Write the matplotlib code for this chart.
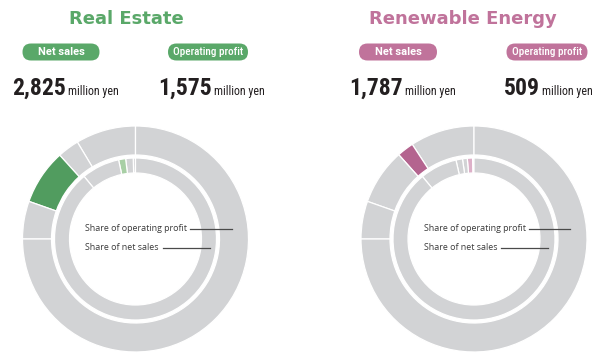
import matplotlib

matplotlib.use("Agg")
import matplotlib.pyplot as plt
from matplotlib.patches import FancyBboxPatch

# segment shares (%), counter-clockwise from 12 o'clock; outer = operating profit, inner = net sales
re_op_share = [8.6, 3.1, 7.9, 5.4, 75.0]
re_sales_share = [0.45, 1.5, 1.4, 7.6, 89.05]
ren_op_share = [9.2, 2.4, 8.0, 5.4, 75.0]
ren_sales_share = [0.28, 1.05, 0.95, 1.3, 7.4, 89.02]
re_op_hi, re_sales_hi = 2, 2
ren_op_hi, ren_sales_hi = 1, 1

titles = ["Real Estate", "Renewable Energy"]
net_sales = ["2,825", "1,787"]
op_profit = ["1,575", "509"]

GRAY = "#d2d3d5"
GREEN, GREEN_L, GREEN_T = "#519c5f", "#a8cfa5", "#5aa869"
PINK, PINK_L, PINK_T = "#b4648f", "#ddb0c8", "#c0739b"
INK = "#231f20"
NARROW = ["Liberation Sans Narrow", "Roboto Condensed", "DejaVu Sans"]

W, H = 600, 357
fig = plt.figure(figsize=(W / 100, H / 100), dpi=100)
ax = fig.add_axes([0, 0, 1, 1])
ax.set_xlim(0, W); ax.set_ylim(0, H); ax.set_aspect("equal"); ax.axis("off")
renderer = fig.canvas.get_renderer()


def Y(y):  # image rows -> axes y
    return H - y


def pill(cx, cy, w, label, color, **kw):
    ax.add_patch(FancyBboxPatch((cx - w / 2, Y(cy) - 8.5), w, 17, boxstyle="round,pad=0,rounding_size=8.5",
                                fc=color, ec="none"))
    ax.text(cx, Y(cy), label, ha="center", va="center", color="white", **kw)


def figure_num(x, value):
    t = ax.text(x, Y(95), value, ha="left", va="baseline", fontsize=17, fontweight="bold", color=INK, family=NARROW)
    right = ax.transData.inverted().transform(t.get_window_extent(renderer))[1][0]
    ax.text(right + 2, Y(95), "million yen", ha="left", va="baseline", fontsize=8.6, color=INK, family=NARROW)


def donut(cx, cy, op, sales, op_hi, sales_hi, dark, light):
    oc = [dark if i == op_hi else GRAY for i in range(len(op))]
    sc = [light if i == sales_hi else GRAY for i in range(len(sales))]
    ax.pie(op, colors=oc, radius=113, center=(cx, Y(cy)), startangle=90, counterclock=True, frame=True,
           wedgeprops=dict(width=29, edgecolor="white", linewidth=0.9))
    ax.pie(sales, colors=sc, radius=81, center=(cx, Y(cy)), startangle=90, counterclock=True, frame=True,
           wedgeprops=dict(width=15, edgecolor="white", linewidth=0.9))
    lab = dict(ha="left", va="center", fontsize=6.4, color="#3a3a3a", family=["Open Sans", "DejaVu Sans"])
    ax.text(cx - 50.5, Y(228.5), "Share of operating profit", **lab)
    ax.plot([cx + 54.5, cx + 96], [Y(228.5)] * 2, color="#4a4a4a", lw=0.9)
    ax.text(cx - 50.5, Y(248), "Share of net sales", **lab)
    ax.plot([cx + 27, cx + 74], [Y(248)] * 2, color="#4a4a4a", lw=0.9)


donut(135.5, 239, re_op_share, re_sales_share, re_op_hi, re_sales_hi, GREEN, GREEN_L)
donut(474, 239, ren_op_share, ren_sales_share, ren_op_hi, ren_sales_hi, PINK, PINK_L)

tkw = dict(ha="center", va="center", fontsize=13, fontweight="bold", family=["DejaVu Sans"])
ax.text(126, Y(18.5), titles[0], color=GREEN_T, **tkw)
ax.text(463, Y(18.5), titles[1], color=PINK_T, **tkw)

ns = dict(fontsize=8, fontweight="bold", family=["Roboto", "DejaVu Sans"])
opk = dict(fontsize=8, fontweight="medium", family=["Roboto Condensed", "DejaVu Sans"])
pill(61, 52, 77, "Net sales", GREEN_T, **ns)
pill(208, 52, 80, "Operating profit", GREEN_T, **opk)
pill(398, 52, 78, "Net sales", PINK_T, **ns)
pill(547, 52, 81, "Operating profit", PINK_T, **opk)

figure_num(12, net_sales[0])
figure_num(158, op_profit[0])
figure_num(349, net_sales[1])
figure_num(504, op_profit[1])

ax.set_xlim(0, W); ax.set_ylim(0, H)
fig.savefig("out.png", dpi=100, facecolor="white")
